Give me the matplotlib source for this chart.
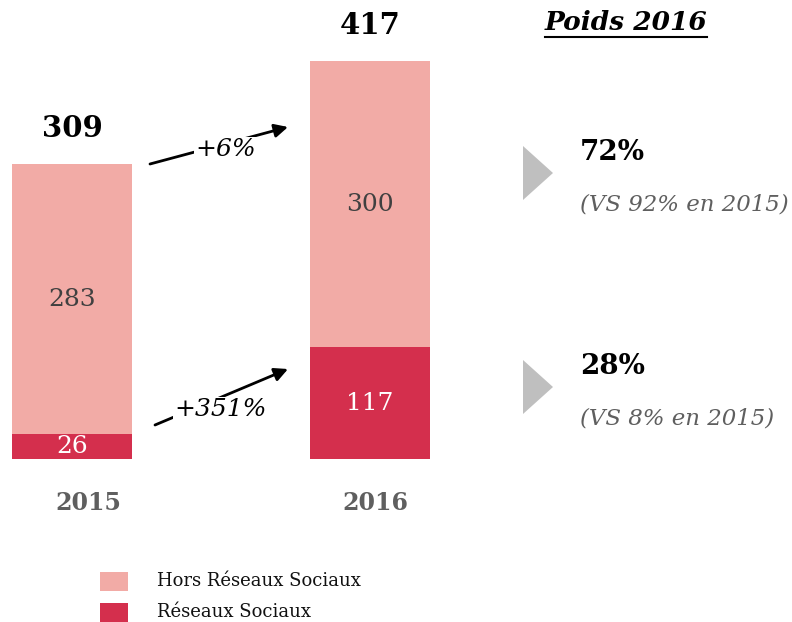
import matplotlib.pyplot as plt
from matplotlib.patches import Polygon, FancyArrowPatch
from matplotlib.lines import Line2D

years = ['2015', '2016']
reseaux = [26, 117]
hors_reseaux = [283, 300]
totals = [309, 417]
growth = ['+6%', '+351%']
poids = ['72%', '28%']
poids_prev = ['(VS 92% en 2015)', '(VS 8% en 2015)']
legend_labels = ['Hors Réseaux Sociaux', 'Réseaux Sociaux']

c_light = '#F2ABA6'
c_dark = '#D42F4D'
grey_txt = '#5f5f5f'
W, H = 792, 622

plt.rcParams['font.family'] = ['DejaVu Serif']

fig = plt.figure(figsize=(W / 100, H / 100), dpi=100)


def fx(x):
    return x / W


def fy(y):
    return 1 - y / H


# bars axes: left 12px, right 430px, bottom 459px, top 61px
ax = fig.add_axes([fx(12), fy(459), (430 - 12) / W, (459 - 61) / H])
bw = 120 / 298
pos = [0, 1]
ax.bar(pos, reseaux, width=bw, color=c_dark)
ax.bar(pos, hors_reseaux, width=bw, bottom=reseaux, color=c_light)
ax.set_xlim(-60 / 298, 1 + 60 / 298)
ax.set_ylim(0, 417)
ax.axis('off')

for i in pos:
    ax.text(i, reseaux[i] / 2, str(reseaux[i]), ha='center', va='center',
            color='white', fontsize=18)
    ax.text(i, reseaux[i] + hors_reseaux[i] / 2, str(hors_reseaux[i]),
            ha='center', va='center', color='#404040', fontsize=18)
    ax.annotate(str(totals[i]), (i, totals[i]), xytext=(0, 21),
                textcoords='offset pixels', ha='center', va='bottom',
                fontsize=21, fontweight='bold', color='black',
                annotation_clip=False)

# year labels
fig.text(fx(88), fy(503), years[0], ha='center', va='center', fontsize=17,
         fontweight='bold', color=grey_txt)
fig.text(fx(375), fy(503), years[1], ha='center', va='center', fontsize=17,
         fontweight='bold', color=grey_txt)

# growth arrows
arrows = [((150, 164), (288, 127), (226, 150)),
          ((155, 425), (288, 369), (221, 410))]
for (p1, p2, pt), lab in zip(arrows, growth):
    fig.patches.append(FancyArrowPatch(
        (fx(p1[0]), fy(p1[1])), (fx(p2[0]), fy(p2[1])),
        transform=fig.transFigure, arrowstyle='-|>', mutation_scale=20,
        lw=2, color='black', zorder=1, shrinkA=0, shrinkB=0))
    fig.text(fx(pt[0]), fy(pt[1]), lab, ha='center', va='center',
             fontsize=18, fontstyle='italic', color='black', zorder=5,
             bbox=dict(facecolor='white', edgecolor='none', pad=1))

# title
title = fig.text(fx(626), fy(22), 'Poids 2016', ha='center', va='center',
                 fontsize=19, fontweight='bold', fontstyle='italic')
fig.canvas.draw()
bb = title.get_window_extent(fig.canvas.get_renderer())
fig.lines.append(Line2D([bb.x0 / W, bb.x1 / W], [fy(37), fy(37)],
                        transform=fig.transFigure, color='black', lw=1.5))

# weight blocks
for yc, big, small in zip([173, 387], poids, poids_prev):
    tri = Polygon([(fx(523), fy(yc - 27)), (fx(523), fy(yc + 27)),
                   (fx(553), fy(yc))], closed=True, transform=fig.transFigure,
                  facecolor='#BFBFBF', edgecolor='none')
    fig.patches.append(tri)
    fig.text(fx(580), fy(yc - 20), big, ha='left', va='center', fontsize=20,
             fontweight='bold', color='black')
    fig.text(fx(580), fy(yc + 32), small, ha='left', va='center', fontsize=16.5,
             fontstyle='italic', color=grey_txt)

# legend
for yc, col, lab in zip([581, 612], [c_light, c_dark], legend_labels):
    fig.patches.append(plt.Rectangle((fx(100), fy(yc + 10)), 28 / W, 19 / H,
                                     transform=fig.transFigure,
                                     facecolor=col, edgecolor='none'))
    fig.text(fx(157), fy(yc), lab, ha='left', va='center', fontsize=13,
             color='#111111')

fig.savefig('out.png', dpi=100)
